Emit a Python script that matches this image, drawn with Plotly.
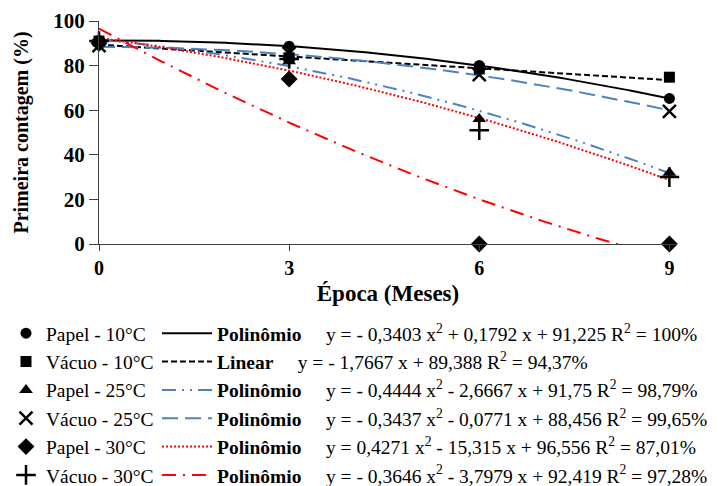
import numpy as np
import plotly.graph_objects as go

# ---------------- data ----------------
epoca = [0, 3, 6, 9]
papel_10 = [91.2, 88.7, 80.1, 65.3]
vacuo_10 = [91.0, 83.5, 78.5, 74.8]
papel_25 = [90.0, 82.0, 56.0, 32.0]
vacuo_25 = [89.0, 85.5, 76.0, 59.5]
papel_30 = [90.0, 74.0, 0.0, 0.0]
vacuo_30 = [91.0, 83.0, 51.0, 30.0]

# trend-line coefficients as printed in the chart (a x^2 + b x + c)
coef_papel_10 = [-0.3403, 0.1792, 91.225]
coef_vacuo_10 = [0.0, -1.7667, 89.388]
coef_papel_25 = [-0.4444, -2.6667, 91.75]
coef_vacuo_25 = [-0.3437, -0.0771, 88.456]
coef_papel_30 = [0.4271, -15.315, 96.556]
coef_vacuo_30 = [-0.3646, -3.7979, 92.419]

marker_labels = ["Papel - 10°C", "Vácuo - 10°C", "Papel - 25°C",
                 "Vácuo - 25°C", "Papel - 30°C", "Vácuo - 30°C"]
fit_kinds = ["Polinômio", "Linear", "Polinômio", "Polinômio", "Polinômio", "Polinômio"]
equations = [
    "y = - 0,3403 x<sup>2</sup> + 0,1792 x + 91,225 R<sup>2</sup> = 100%",
    "y = - 1,7667 x + 89,388 R<sup>2</sup> = 94,37%",
    "y = - 0,4444 x<sup>2</sup> - 2,6667 x + 91,75 R<sup>2</sup> = 98,79%",
    "y = - 0,3437 x<sup>2</sup> - 0,0771 x + 88,456 R<sup>2</sup> = 99,65%",
    "y = 0,4271 x<sup>2</sup> - 15,315 x + 96,556 R<sup>2</sup> = 87,01%",
    "y = - 0,3646 x<sup>2</sup> - 3,7979 x + 92,419 R<sup>2</sup> = 97,28%",
]
x_ticks = [0, 3, 6, 9]
y_ticks = [0, 20, 40, 60, 80, 100]

# ---------------- styles ----------------
FONT = "Times New Roman, Liberation Serif, Tinos, serif"
BLUE = "#4F81BD"
RED = "#FF0000"
series = [papel_10, vacuo_10, papel_25, vacuo_25, papel_30, vacuo_30]
symbols = ["circle", "square", "triangle-up", "x-thin", "diamond", "cross-thin"]
msizes = [11, 11, 12, 13, 13, 14]
coefs = [coef_papel_10, coef_vacuo_10, coef_papel_25, coef_vacuo_25, coef_papel_30, coef_vacuo_30]
curve_styles = [
    dict(color="black", dash="solid", width=2),
    dict(color="black", dash="6px,3px", width=2),
    dict(color=BLUE, dash="14px,6px,2px,6px,2px,6px", width=2),
    dict(color=BLUE, dash="16px,7px", width=2),
    dict(color=RED, dash="14px,7px,2px,7px", width=2),      # drawn for Papel 30 fit
    dict(color=RED, dash="2px,2px", width=2),               # drawn for Vácuo 30 fit
]
# legend shows the red styles swapped (as in the original figure)
legend_styles = [curve_styles[0], curve_styles[1], curve_styles[2],
                 curve_styles[3], curve_styles[5], curve_styles[4]]
gaps = ["&nbsp;" * 5, "&nbsp;" * 5, "&nbsp;" * 5, "&nbsp;" * 5, "&nbsp;" * 5, "&nbsp;" * 5]

fig = go.Figure()

xs = np.linspace(0, 9, 181)
for c, st in zip(coefs, curve_styles):
    ys = c[0] * xs ** 2 + c[1] * xs + c[2]
    fig.add_trace(go.Scatter(x=xs, y=ys, mode="lines", line=st,
                             showlegend=False, hoverinfo="skip"))

for i, (vals, sym, ms, lab) in enumerate(zip(series, symbols, msizes, marker_labels)):
    thin = sym.endswith("thin")
    fig.add_trace(go.Scatter(
        x=epoca, y=vals, mode="markers", name=lab,
        marker=dict(symbol=sym, size=ms, color="black",
                    line=dict(color="black", width=2.5 if thin else 0)),
        cliponaxis=False, legend="legend", legendgroup="m%d" % i))

for i, (kind, eq, st, gp) in enumerate(zip(fit_kinds, equations, legend_styles, gaps)):
    fig.add_trace(go.Scatter(
        x=[None], y=[None], mode="lines", line=st,
        name="<b>%s</b>%s%s" % (kind, gp, eq),
        legend="legend2", legendgroup="l%d" % i))

# plot area in pixels: left 99, right 677, top 21, bottom 244
PL, PR, PT, PB = 99, 677, 21, 244
def px_x(px):
    return (px - PL) / (PR - PL)
def px_y(py):
    return (PB - py) / (PB - PT)

fig.update_layout(
    width=728, height=486,
    margin=dict(l=PL, r=728 - PR, t=PT, b=486 - PB, autoexpand=False),
    paper_bgcolor="white", plot_bgcolor="white",
    font=dict(family=FONT, color="black"),
    xaxis=dict(range=[0, 9.12], tickvals=x_ticks, showgrid=False, zeroline=False,
               showline=True, linecolor="#404040", linewidth=1,
               ticks="outside", ticklen=6, tickcolor="#404040",
               tickfont=dict(family=FONT, size=20, color="black", weight="bold"),
               title=dict(text="<b>Época (Meses)</b>", font=dict(family=FONT, size=23),
                          standoff=6)),
    yaxis=dict(range=[0, 100], tickvals=y_ticks, showgrid=False, zeroline=False,
               showline=True, linecolor="#404040", linewidth=1,
               ticks="outside", ticklen=9, tickcolor="#404040",
               tickfont=dict(family=FONT, size=21, color="black", weight="bold"),
               title=dict(text="<b>Primeira contagem (%)</b>",
                          font=dict(family=FONT, size=20), standoff=19)),
    legend=dict(x=px_x(6), y=px_y(314), xanchor="left", yanchor="top",
                font=dict(family=FONT, size=19.5), bgcolor="rgba(0,0,0,0)",
                traceorder="grouped", tracegroupgap=0, itemwidth=30),
    legend2=dict(x=px_x(157), y=px_y(314), xanchor="left", yanchor="top",
                 font=dict(family=FONT, size=19.5), bgcolor="rgba(0,0,0,0)",
                 traceorder="grouped", tracegroupgap=0, itemwidth=50),
)

fig.write_html("out.html", config={"displayModeBar": False},
               post_script="document.body.style.margin='0';")
